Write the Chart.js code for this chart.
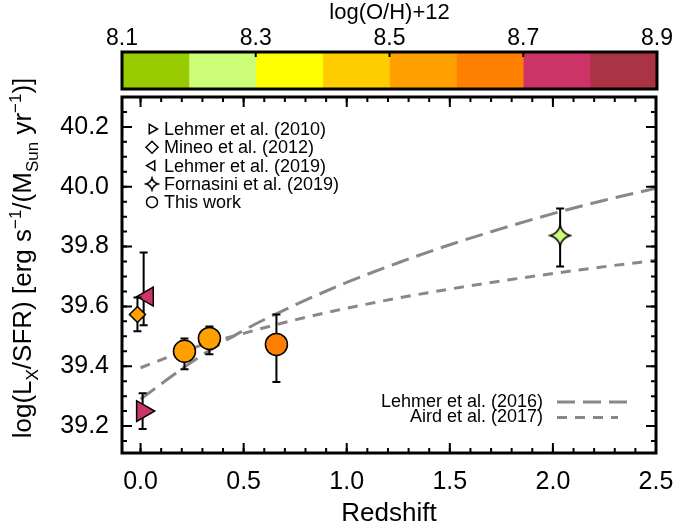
<!DOCTYPE html>
<html>
<head>
<meta charset="utf-8">
<title>Lx/SFR vs redshift</title>
<script src="https://cdn.jsdelivr.net/npm/chart.js@4"></script>
<style>
  html, body { margin: 0; padding: 0; background: #fff; }
  #wrap { position: relative; width: 677px; height: 529px; }
  #mainChart, #colorBar { position: absolute; left: 0; top: 0; }
</style>
</head>
<body>
<div id="wrap">
  <canvas id="mainChart" width="677" height="529"></canvas>
  <canvas id="colorBar" width="677" height="95"></canvas>
</div>
<script>
// colour bar: metallicity bins and their colours
const ohEdges = [8.1, 8.2, 8.3, 8.4, 8.5, 8.6, 8.7, 8.8, 8.9];
const ohColours = ['#99cc00', '#ccff77', '#ffff00', '#ffcc00', '#ffa000', '#ff8000', '#cc3366', '#aa3344'];
const ohTickVals = [8.1, 8.3, 8.5, 8.7, 8.9];

// main axes
const xTickVals = [0.0, 0.5, 1.0, 1.5, 2.0, 2.5];
const yTickVals = [39.2, 39.4, 39.6, 39.8, 40.0, 40.2];

const legendNames = ['Lehmer et al. (2010)', 'Mineo et al. (2012)', 'Lehmer et al. (2019)', 'Fornasini et al. (2019)', 'This work'];
const modelNames = ['Lehmer et al. (2016)', 'Aird et al. (2017)'];

// Lehmer et al. (2010)
const lehmer10Z = [0.01];
const lehmer10Y = [39.25];
const lehmer10Lo = [39.19];
const lehmer10Hi = [39.31];
const lehmer10OH = [8.75];

// Mineo et al. (2012)
const mineoZ = [-0.015];
const mineoY = [39.573];
const mineoLo = [39.517];
const mineoHi = [39.63];
const mineoOH = [8.55];

// Lehmer et al. (2019) - marker sits a little right of its error bar
const lehmer19Z = [0.035];
const lehmer19ErrZ = [0.015];
const lehmer19Y = [39.633];
const lehmer19Lo = [39.537];
const lehmer19Hi = [39.78];
const lehmer19OH = [8.75];

// Fornasini et al. (2019)
const fornasiniZ = [2.035];
const fornasiniY = [39.837];
const fornasiniLo = [39.733];
const fornasiniHi = [39.927];
const fornasiniOH = [8.25];

// This work
const thisZ = [0.213, 0.334, 0.659];
const thisY = [39.45, 39.493, 39.473];
const thisLo = [39.39, 39.44, 39.347];
const thisHi = [39.493, 39.533, 39.573];
const thisOH = [8.55, 8.55, 8.65];

// model relations
const modelZ = [0, 0.25, 0.5, 0.75, 1.0, 1.25, 1.5, 1.75, 2.0, 2.25, 2.5];
const lehmer16Y = [39.29, 39.415, 39.52, 39.605, 39.68, 39.746, 39.806, 39.86, 39.91, 39.955, 39.995];
const aird17Y = [39.395, 39.46, 39.51, 39.555, 39.594, 39.628, 39.658, 39.685, 39.71, 39.733, 39.754];

const FONT = "'Liberation Sans', Arial, Helvetica, sans-serif";
Chart.defaults.font.family = FONT;
Chart.defaults.color = '#000';

function ohColour(v) {
  for (let i = 0; i < ohColours.length; i++) {
    if (v >= ohEdges[i] && v < ohEdges[i + 1]) return ohColours[i];
  }
  return ohColours[ohColours.length - 1];
}

// 4-pointed star used for Fornasini et al.
function makeStar(fill, r, lw) {
  const size = Math.ceil(2 * r + 4);
  const c = document.createElement('canvas');
  c.width = size;
  c.height = size;
  const g = c.getContext('2d');
  const m = size / 2, k = r * 0.22;
  g.beginPath();
  g.moveTo(m, m - r);
  g.quadraticCurveTo(m + k, m - k, m + r, m);
  g.quadraticCurveTo(m + k, m + k, m, m + r);
  g.quadraticCurveTo(m - k, m + k, m - r, m);
  g.quadraticCurveTo(m - k, m - k, m, m - r);
  g.closePath();
  g.fillStyle = fill;
  g.fill();
  g.lineWidth = lw;
  g.strokeStyle = '#000';
  g.stroke();
  return c;
}

function pointSet(label, zs, ys, ez, lo, hi, oh, style, rot, r) {
  return {
    type: 'scatter',
    label: label,
    data: zs.map((z, i) => ({ x: z, y: ys[i] })),
    errZ: ez, errLo: lo, errHi: hi,
    markerStyle: style, markerRot: rot,
    pointStyle: style === 'star' ? oh.map(v => makeStar(ohColour(v), r, 1.5)) : style,
    pointRotation: rot,
    pointRadius: r,
    backgroundColor: oh.map(ohColour),
    borderColor: '#000',
    borderWidth: 1.5
  };
}

function modelLine(label, ys, dash) {
  return {
    type: 'line',
    label: label,
    data: modelZ.map((z, i) => ({ x: z, y: ys[i] })),
    borderColor: '#888888',
    borderWidth: 3,
    borderDash: dash,
    pointRadius: 0,
    fill: false,
    cubicInterpolationMode: 'monotone'
  };
}

const LEHMER16_DASH = [18, 8];
const AIRD17_DASH = [10, 8];

// error bars go under each marker set
const errorBars = {
  id: 'errorBars',
  beforeDatasetDraw(chart, args) {
    const ds = chart.data.datasets[args.index];
    if (!ds.errLo) return;
    const { ctx, scales: { x, y } } = chart;
    ctx.save();
    ctx.strokeStyle = '#000';
    ctx.lineWidth = 2;
    ds.errLo.forEach((lo, i) => {
      const px = x.getPixelForValue(ds.errZ[i]);
      const y0 = y.getPixelForValue(lo);
      const y1 = y.getPixelForValue(ds.errHi[i]);
      ctx.beginPath();
      ctx.moveTo(px, y0); ctx.lineTo(px, y1);
      ctx.moveTo(px - 4, y0); ctx.lineTo(px + 4, y0);
      ctx.moveTo(px - 4, y1); ctx.lineTo(px + 4, y1);
      ctx.stroke();
    });
    ctx.restore();
  }
};

// box with inward ticks on all four sides
const frame = {
  id: 'frame',
  afterDatasetsDraw(chart) {
    const { ctx, chartArea: a, scales: { x, y } } = chart;
    ctx.save();
    ctx.strokeStyle = '#000';
    ctx.lineWidth = 2;
    const xMinor = [];
    for (let v = 0; v <= 2.5001; v += 0.1) xMinor.push(v);
    const yMinor = [];
    for (let v = 39.15; v <= 40.3; v += 0.05) yMinor.push(v);
    const vTick = (v, len) => {
      const px = x.getPixelForValue(v);
      ctx.beginPath();
      ctx.moveTo(px, a.bottom); ctx.lineTo(px, a.bottom - len);
      ctx.moveTo(px, a.top); ctx.lineTo(px, a.top + len);
      ctx.stroke();
    };
    const hTick = (v, len) => {
      const py = y.getPixelForValue(v);
      ctx.beginPath();
      ctx.moveTo(a.left, py); ctx.lineTo(a.left + len, py);
      ctx.moveTo(a.right, py); ctx.lineTo(a.right - len, py);
      ctx.stroke();
    };
    xMinor.forEach(v => vTick(v, 5));
    xTickVals.forEach(v => vTick(v, 10));
    yMinor.forEach(v => hTick(v, 5));
    yTickVals.forEach(v => hTick(v, 10));
    ctx.lineWidth = 3;
    ctx.strokeRect(a.left, a.top, a.right - a.left, a.bottom - a.top);
    ctx.restore();
  }
};

// legends drawn inside the plot
const legends = {
  id: 'legends',
  afterDraw(chart) {
    const { ctx, chartArea: a } = chart;
    const drawPoint = Chart.helpers && Chart.helpers.drawPoint;
    ctx.save();
    ctx.font = '18px ' + FONT;
    ctx.textBaseline = 'middle';
    ctx.fillStyle = '#000';
    const sets = chart.data.datasets.filter(d => d.errLo);
    sets.forEach((ds, i) => {
      const mx = a.left + 30, my = a.top + 32 + i * 18.3;
      ctx.save();
      ctx.fillStyle = '#fff';
      ctx.strokeStyle = '#000';
      ctx.lineWidth = 1.5;
      const style = ds.markerStyle === 'star' ? makeStar('#fff', 6, 1.5) : ds.markerStyle;
      const radius = ds.markerStyle === 'rectRot' ? 6 : 5.5;
      if (drawPoint) {
        drawPoint(ctx, { pointStyle: style, rotation: ds.markerRot, radius: radius, borderWidth: 1.5 }, mx, my);
      } else {
        ctx.beginPath(); ctx.arc(mx, my, 5, 0, Math.PI * 2); ctx.fill(); ctx.stroke();
      }
      ctx.restore();
      ctx.textAlign = 'left';
      ctx.fillText(ds.label, a.left + 42, my + 1);
    });

    const dashes = [LEHMER16_DASH, AIRD17_DASH];
    const ends = [a.right - 29, a.right - 38];
    modelNames.forEach((name, i) => {
      const my = a.top + 305 + i * 15.5;
      ctx.textAlign = 'right';
      ctx.fillStyle = '#000';
      ctx.fillText(name, a.right - 113, my);
      ctx.save();
      ctx.strokeStyle = '#888888';
      ctx.lineWidth = 3;
      ctx.setLineDash(dashes[i]);
      ctx.beginPath();
      ctx.moveTo(a.right - 99, my);
      ctx.lineTo(ends[i], my);
      ctx.stroke();
      ctx.restore();
    });
    ctx.restore();
  }
};

// rotated y title with sub- and superscripts
const yTitle = {
  id: 'yTitle',
  afterDraw(chart) {
    const ctx = chart.ctx;
    const big = 26, small = 17;
    const parts = [
      ['log(L', 0, big], ['X', 7, small], ['/SFR) [erg s', 0, big], ['\u22121', -10, small],
      ['/(M', 0, big], ['Sun', 7, small], [' yr', 0, big], ['\u22121', -10, small], [')]', 0, big]
    ];
    ctx.save();
    let total = 0;
    parts.forEach(p => { ctx.font = p[2] + 'px ' + FONT; total += ctx.measureText(p[0]).width; });
    ctx.translate(31, 258);
    ctx.rotate(-Math.PI / 2);
    ctx.fillStyle = '#000';
    ctx.textBaseline = 'alphabetic';
    let cx = -total / 2;
    parts.forEach(p => {
      ctx.font = p[2] + 'px ' + FONT;
      ctx.fillText(p[0], cx, p[1]);
      cx += ctx.measureText(p[0]).width;
    });
    ctx.restore();
  }
};

new Chart(document.getElementById('mainChart'), {
  type: 'scatter',
  data: {
    datasets: [
      pointSet(legendNames[0], lehmer10Z, lehmer10Y, lehmer10Z, lehmer10Lo, lehmer10Hi, lehmer10OH, 'triangle', 90, 12),
      pointSet(legendNames[1], mineoZ, mineoY, mineoZ, mineoLo, mineoHi, mineoOH, 'rectRot', 0, 8),
      pointSet(legendNames[2], lehmer19Z, lehmer19Y, lehmer19ErrZ, lehmer19Lo, lehmer19Hi, lehmer19OH, 'triangle', -90, 11),
      pointSet(legendNames[3], fornasiniZ, fornasiniY, fornasiniZ, fornasiniLo, fornasiniHi, fornasiniOH, 'star', 0, 10),
      pointSet(legendNames[4], thisZ, thisY, thisZ, thisLo, thisHi, thisOH, 'circle', 0, 11),
      modelLine(modelNames[0], lehmer16Y, LEHMER16_DASH),
      modelLine(modelNames[1], aird17Y, AIRD17_DASH)
    ]
  },
  options: {
    responsive: false,
    animation: false,
    events: [],
    layout: { padding: { top: 97, right: 21, left: 0, bottom: 0 } },
    plugins: { legend: { display: false }, tooltip: { enabled: false } },
    scales: {
      x: {
        type: 'linear',
        min: -0.09,
        max: 2.5,
        // tick length only spaces the labels; the marks come from the frame plugin
        grid: { display: false, drawTicks: true, tickLength: 14 },
        border: { display: false },
        afterBuildTicks: s => { s.ticks = xTickVals.map(v => ({ value: v })); },
        afterFit: s => { s.height = 76; },
        ticks: { font: { size: 25 }, color: '#000', padding: 0, maxRotation: 0, callback: v => v.toFixed(1) },
        title: { display: true, text: 'Redshift', font: { size: 26 }, color: '#000', padding: { top: 0, bottom: 0 } }
      },
      y: {
        type: 'linear',
        min: 39.11,
        max: 40.3,
        grid: { display: false, drawTicks: true, tickLength: 13 },
        border: { display: false },
        afterBuildTicks: s => { s.ticks = yTickVals.map(v => ({ value: v })); },
        afterFit: s => { s.width = 122; },
        ticks: { font: { size: 25 }, color: '#000', padding: 0, callback: v => v.toFixed(1) }
      }
    }
  },
  plugins: [errorBars, frame, legends, yTitle]
});

const cbarFrame = {
  id: 'cbarFrame',
  afterDraw(chart) {
    const { ctx, chartArea: a, scales: { x } } = chart;
    ctx.save();
    ctx.strokeStyle = '#000';
    ctx.lineWidth = 2;
    ohTickVals.slice(1, -1).forEach(v => {
      const px = x.getPixelForValue(v);
      ctx.beginPath();
      ctx.moveTo(px, a.top);
      ctx.lineTo(px, a.top + 5);
      ctx.stroke();
    });
    ctx.lineWidth = 3;
    ctx.strokeRect(a.left, a.top, a.right - a.left, a.bottom - a.top);
    ctx.restore();
  }
};

new Chart(document.getElementById('colorBar'), {
  type: 'bar',
  data: {
    labels: [''],
    datasets: ohColours.map((c, i) => ({
      data: [[ohEdges[i], ohEdges[i + 1]]],
      backgroundColor: c,
      borderWidth: 0,
      barPercentage: 1,
      categoryPercentage: 1
    }))
  },
  options: {
    indexAxis: 'y',
    responsive: false,
    animation: false,
    events: [],
    layout: { padding: { left: 122, right: 20, top: 0, bottom: 6 } },
    plugins: { legend: { display: false }, tooltip: { enabled: false } },
    scales: {
      x: {
        type: 'linear',
        position: 'top',
        min: 8.1,
        max: 8.9,
        grid: { display: false, drawTicks: false },
        border: { display: false },
        afterBuildTicks: s => { s.ticks = ohTickVals.map(v => ({ value: v })); },
        afterFit: s => { s.height = 52; },
        ticks: { font: { size: 23 }, color: '#000', padding: 0, maxRotation: 0, callback: v => v.toFixed(1) },
        title: { display: true, text: 'log(O/H)+12', font: { size: 22 }, color: '#000', padding: 0 }
      },
      y: { display: false, stacked: true }
    }
  },
  plugins: [cbarFrame]
});
</script>
</body>
</html>
